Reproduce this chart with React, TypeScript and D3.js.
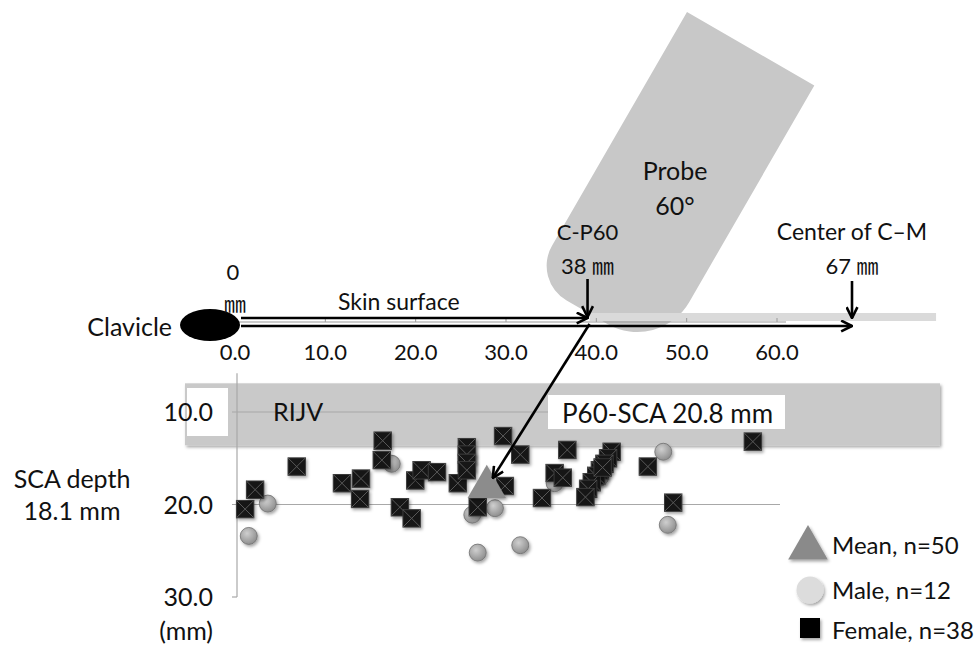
import * as d3 from 'd3'

// --- data (mm) ---
const femaleX = [0.9, 2.0, 6.6, 11.6, 13.7, 13.6, 16.1, 16.0, 18.0, 19.3, 19.7, 20.4, 22.1, 24.4,
  25.4, 25.4, 25.4, 25.4, 26.6, 29.4, 29.6, 31.3, 33.7, 36.5, 35.1, 36.0,
  41.4, 41.0, 40.6, 40.1, 39.7, 39.2, 38.8, 38.5, 45.4, 48.2, 57.0, 40.4]
const femaleDepth = [20.5, 18.4, 15.9, 17.7, 17.2, 19.4, 13.1, 15.2, 20.3, 21.5, 17.4, 16.3, 16.5, 17.7,
  13.8, 14.6, 15.5, 16.3, 20.3, 12.6, 18.0, 14.6, 19.3, 14.1, 16.6, 17.1,
  14.3, 15.0, 15.6, 16.3, 16.9, 17.6, 18.3, 19.2, 15.9, 19.8, 13.2, 16.0]
const maleX = [3.4, 1.3, 17.1, 26.0, 28.5, 26.6, 31.3, 35.1, 47.1, 47.6, 40.1, 25.4]
const maleDepth = [19.9, 23.4, 15.6, 21.1, 20.4, 25.2, 24.4, 17.7, 14.3, 22.2, 17.1, 15.0]
const meanX = 27.6
const meanDepth = 18.1

const xTicks = [0, 10, 20, 30, 40, 50, 60]
const yTicks = [10, 20, 30]
const rijvBand = [6.9, 13.6]
const cP60 = 38
const centerCM = 67
const p60Sca = 20.8
const probeAngle = 60

const FONT = "Lato, 'Open Sans', sans-serif"
const CJK = "'Noto Sans CJK JP', sans-serif"

export default function App() {
  // top axis (skin surface)
  const topX = d3.scaleLinear().domain([0, 60]).range([235, 777])
  // distances along the skin measured from the clavicle edge
  const diagX = d3.scaleLinear().domain([0, centerCM]).range([241, 852])
  // scatter scales
  const sx = d3.scaleLinear().domain([0, 60]).range([237, 780])
  const sy = d3.scaleLinear().domain([0, 30]).range([319.5, 597])

  const skinY = 322
  const tri = d3.symbol().type(d3.symbolTriangle)

  return (
    <svg width={974} height={646} style={{ position: 'absolute', left: 0, top: 0, background: '#fff' }}
      fontFamily={FONT}>
      <defs>
        <marker id="arr" viewBox="0 0 12 12" refX={11} refY={6} markerWidth={13} markerHeight={13}
          markerUnits="userSpaceOnUse" orient="auto">
          <path d="M1,1 L11,6 L1,11" fill="none" stroke="#000" strokeWidth={2.4} />
        </marker>
        <radialGradient id="ball" cx="40%" cy="35%" r="70%">
          <stop offset="0%" stopColor="#cfcfcf" />
          <stop offset="100%" stopColor="#8a8a8a" />
        </radialGradient>
        <filter id="shadow" x="-30%" y="-30%" width="160%" height="160%">
          <feDropShadow dx={1.5} dy={2} stdDeviation={1.5} floodColor="#000" floodOpacity={0.35} />
        </filter>
      </defs>

      {/* probe */}
      <g transform={`translate(687,12) rotate(${90 - probeAngle})`}>
        <path d="M0,0 H147 V250 A60,60 0 0 1 87,310 H40 A40,40 0 0 1 0,270 Z" fill="#c8c8c8" />
      </g>
      <text x={675} y={180} fontSize={25} textAnchor="middle" fill="#111">Probe</text>
      <text x={675} y={215} fontSize={25} textAnchor="middle" fill="#111">{probeAngle}°</text>

      {/* light skin band beyond the probe */}
      <rect x={diagX(cP60) + 2} y={313} width={diagX(76) - diagX(cP60)} height={8} fill="#dadada" />

      {/* top axis */}
      <line x1={topX(0)} x2={topX(61)} y1={skinY} y2={skinY} stroke="#9a9a9a" strokeWidth={1.2} />
      {xTicks.map(t => (
        <g key={t}>
          <line x1={topX(t)} x2={topX(t)} y1={skinY} y2={skinY - 4} stroke="#9a9a9a" />
          <text x={topX(t)} y={360} fontSize={22} textAnchor="middle" fill="#111">{t.toFixed(1)}</text>
        </g>
      ))}

      {/* skin surface arrows */}
      <line x1={diagX(0)} x2={diagX(cP60)} y1={318} y2={318} stroke="#000" strokeWidth={2.6} markerEnd="url(#arr)" />
      <line x1={diagX(0)} x2={diagX(centerCM)} y1={326} y2={326} stroke="#000" strokeWidth={2.6} markerEnd="url(#arr)" />
      <text x={338} y={310} fontSize={23} fill="#111">Skin surface</text>

      {/* clavicle */}
      <ellipse cx={210} cy={325} rx={30} ry={16} fill="#000" />
      <text x={172} y={336} fontSize={25} textAnchor="end" fill="#111">Clavicle</text>
      <text x={233} y={280} fontSize={22} textAnchor="middle" fill="#111">0</text>
      <text x={235} y={312} fontSize={22} textAnchor="middle" fill="#111" fontFamily={CJK}>㎜</text>

      {/* C-P60 */}
      <line x1={diagX(cP60)} x2={diagX(cP60)} y1={279} y2={317} stroke="#000" strokeWidth={2.6} markerEnd="url(#arr)" />
      <text x={diagX(cP60)} y={240} fontSize={22} textAnchor="middle" fill="#111">C-P60</text>
      <text x={diagX(cP60)} y={274} fontSize={22} textAnchor="middle" fill="#111">
        {cP60} <tspan fontFamily={CJK} fontSize={22}>㎜</tspan>
      </text>

      {/* center of C-M */}
      <line x1={diagX(centerCM)} x2={diagX(centerCM)} y1={281} y2={318} stroke="#000" strokeWidth={2.6} markerEnd="url(#arr)" />
      <text x={diagX(centerCM)} y={240} fontSize={23} textAnchor="middle" fill="#111">Center of C–M</text>
      <text x={diagX(centerCM)} y={274} fontSize={22} textAnchor="middle" fill="#111">
        {centerCM} <tspan fontFamily={CJK} fontSize={22}>㎜</tspan>
      </text>

      {/* RIJV band */}
      <rect x={185} y={sy(rijvBand[0])} width={755} height={sy(rijvBand[1]) - sy(rijvBand[0])} fill="#c9c9c9"
        filter="url(#shadow)" />
      <rect x={187} y={388} width={41} height={48} fill="#fff" />

      {/* scatter axes */}
      {yTicks.map(t => (
        <g key={t}>
          <line x1={232} x2={t < 30 ? sx(60) : sx(0)} y1={sy(t)} y2={sy(t)} stroke="#a8a8a8" strokeWidth={1.2} />
          <text x={213} y={sy(t) + 9} fontSize={25} textAnchor="end" fill="#111">{t.toFixed(1)}</text>
        </g>
      ))}
      <line x1={sx(0)} x2={sx(0)} y1={sy(5.8)} y2={sy(30)} stroke="#a8a8a8" strokeWidth={1.2} />
      <text x={213} y={640} fontSize={25} textAnchor="end" fill="#111">(mm)</text>
      <text x={72} y={488} fontSize={25} textAnchor="middle" fill="#111">SCA depth</text>
      <text x={72} y={520} fontSize={25} textAnchor="middle" fill="#111">{meanDepth} mm</text>
      <text x={273} y={421} fontSize={25} fill="#111">RIJV</text>

      {/* P60-SCA label */}
      <rect x={548} y={395} width={237} height={34} fill="#fff" />
      <text x={562} y={423} fontSize={26} fill="#111">P60-SCA {p60Sca} mm</text>

      {/* male */}
      {maleX.map((x, i) => (
        <circle key={i} cx={sx(x)} cy={sy(maleDepth[i])} r={8.5} fill="url(#ball)" stroke="#6e6e6e"
          strokeWidth={0.8} filter="url(#shadow)" />
      ))}

      {/* female */}
      {femaleX.map((x, i) => {
        const cx = sx(x), cy = sy(femaleDepth[i]), h = 8.7
        return (
          <g key={i} filter="url(#shadow)">
            <rect x={cx - h} y={cy - h} width={h * 2} height={h * 2} fill="#141414" stroke="#3a3a3a" strokeWidth={1} />
            <path d={`M${cx - h},${cy - h}L${cx + h},${cy + h}M${cx + h},${cy - h}L${cx - h},${cy + h}`}
              stroke="#5a5a5a" strokeWidth={1} />
          </g>
        )
      })}

      {/* mean */}
      <path d={tri.size(640)()} transform={`translate(${sx(meanX)},${sy(meanDepth)})`} fill="#8c8c8c"
        filter="url(#shadow)" />

      {/* P60 -> SCA arrow */}
      <line x1={diagX(cP60) + 2} y1={skinY + 2} x2={sx(meanX) + 6} y2={sy(meanDepth) - 9}
        stroke="#000" strokeWidth={2.6} markerEnd="url(#arr)" />

      {/* legend */}
      <path d={tri.size(680)()} transform="translate(808,548)" fill="#8a8a8a" filter="url(#shadow)" />
      <text x={832} y={554} fontSize={24} fill="#111">Mean, n=50</text>
      <circle cx={810} cy={590} r={13.5} fill="#dcdcdc" filter="url(#shadow)" />
      <text x={832} y={599} fontSize={24} fill="#111">Male, n=12</text>
      <rect x={800} y={618} width={20} height={20} fill="#000" filter="url(#shadow)" />
      <text x={832} y={639} fontSize={24} fill="#111">Female, n=38</text>
    </svg>
  )
}
